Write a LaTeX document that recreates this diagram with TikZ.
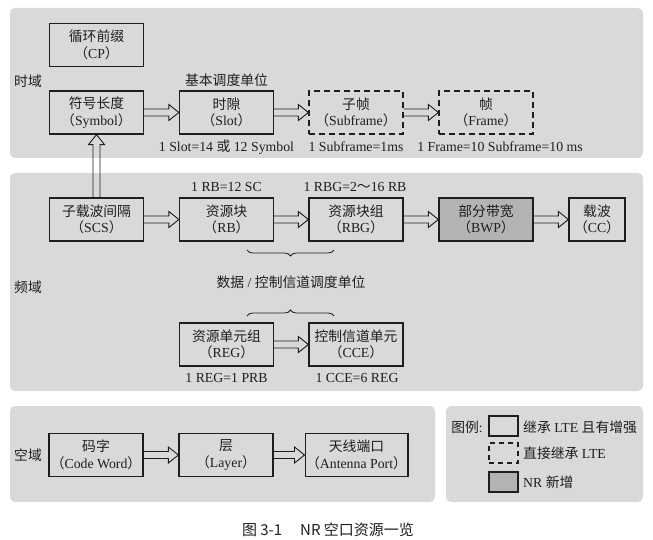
\documentclass[tikz,border=0pt]{standalone}
\usepackage{fontspec}
\setmainfont{Liberation Serif}
\newfontfamily\cjk{Noto Sans CJK SC}
\usetikzlibrary{calc,decorations.pathreplacing}
\newcommand\zh[1]{{\cjk #1}}
\definecolor{panelgray}{HTML}{D9D9D9}
\definecolor{newgray}{HTML}{B3B3B3}
\definecolor{ink}{HTML}{1E1E1E}
\tikzset{
  panel/.style={fill=panelgray, draw=none, rounded corners=5pt},
  box/.style={draw=ink, line width=1.2pt, minimum width=94pt, minimum height=43pt,
    align=center, inner sep=1pt, font=\fontsize{13.8}{16.5}\selectfont, text=ink},
  dbox/.style={box, dash pattern=on 6pt off 4pt},
  gbox/.style={box, fill=newgray},
  arr/.style={draw=ink, line width=0.9pt, line join=miter},
  lbl/.style={font=\fontsize{13.8}{16}\selectfont, text=ink, inner sep=0pt},
  brc/.style={draw=ink, line width=0.8pt, decorate},
}
\newcommand\harr[2]{\draw[arr] let \p1=(#1.east), \p2=(#2.west) in
  (\x1,\y1+3.5pt) -- (\x2-10pt,\y1+3.5pt) -- (\x2-10pt,\y1+8pt) -- (\x2,\y1)
  -- (\x2-10pt,\y1-8pt) -- (\x2-10pt,\y1-3.5pt) -- (\x1,\y1-3.5pt);}
\begin{document}
\begin{tikzpicture}[x=1pt,y=1pt]
\useasboundingbox (0,0) rectangle (653,539);
% panels
\fill[panel] (10,381) rectangle (643,531);
\fill[panel] (10,148) rectangle (643,366);
\fill[panel] (10,37) rectangle (435,133);
\fill[panel] (446,37) rectangle (643,133);

% time domain
\node[lbl] (td) at (28,458) {\zh{时域}};
\node[box] (cp) at (96.5,494) {\zh{循环前缀}\\\zh{（}CP\zh{）}};
\node[box] (sym) at (96.5,426.5) {\zh{符号长度}\\\zh{（}Symbol\zh{）}};
\node[box] (slot) at (226.5,426.5) {\zh{时隙}\\\zh{（}Slot\zh{）}};
\node[dbox] (subf) at (356,426.5) {\zh{子帧}\\\zh{（}Subframe\zh{）}};
\node[dbox] (frame) at (486,426.5) {\zh{帧}\\\zh{（}Frame\zh{）}};
\node[lbl] (bas) at (226.5,459) {\zh{基本调度单位}};
\node[lbl] (l1) at (226.5,392) {1 Slot=14 \zh{或} 12 Symbol};
\node[lbl] (l2) at (356,392) {1 Subframe=1ms};
\node[lbl] (l3) at (500,392) {1 Frame=10 Subframe=10 ms};
\harr{sym}{slot}
\harr{slot}{subf}
\harr{subf}{frame}

% frequency domain
\node[lbl] (fd) at (28,252) {\zh{频域}};
\node[box] (scs) at (96.5,319.5) {\zh{子载波间隔}\\\zh{（}SCS\zh{）}};
\node[box] (rb) at (226.5,319.5) {\zh{资源块}\\\zh{（}RB\zh{）}};
\node[box] (rbg) at (356,319.5) {\zh{资源块组}\\\zh{（}RBG\zh{）}};
\node[gbox] (bwp) at (486,319.5) {\zh{部分带宽}\\\zh{（}BWP\zh{）}};
\node[box, minimum width=56pt] (cc) at (597,319.5) {\zh{载波}\\\zh{（}CC\zh{）}};
\node[lbl] (l4) at (226.5,352) {1 RB=12 SC};
\node[lbl] (l5) at (355,352) {1 RBG=2\zh{～}16 RB};
\node[box] (reg) at (226.5,194.5) {\zh{资源单元组}\\\zh{（}REG\zh{）}};
\node[box] (cce) at (356,194.5) {\zh{控制信道单元}\\\zh{（}CCE\zh{）}};
\node[lbl] (l6) at (226.5,161) {1 REG=1 PRB};
\node[lbl] (l7) at (357,161) {1 CCE=6 REG};
\node[lbl] (dc) at (291,257) {\zh{数据} / \zh{控制信道调度单位}};
\harr{scs}{rb}
\harr{rb}{rbg}
\harr{rbg}{bwp}
\harr{bwp}{cc}
\harr{reg}{cce}
% vertical arrow SCS -> Symbol
\draw[arr] let \p1=(scs.north), \p2=(sym.south) in
  (\x1-3.5pt,\y1) -- (\x1-3.5pt,\y2-10pt) -- (\x1-8pt,\y2-10pt) -- (\x2,\y2)
  -- (\x1+8pt,\y2-10pt) -- (\x1+3.5pt,\y2-10pt) -- (\x1+3.5pt,\y1);
% braces
\coordinate (b1a) at (247,289);
\coordinate (b1b) at (334,289);
\coordinate (b2a) at (247,223);
\coordinate (b2b) at (334,223);
\draw[brc, decoration={brace, mirror, amplitude=6pt}] (b1a) -- (b1b);
\draw[brc, decoration={brace, amplitude=6pt}] (b2a) -- (b2b);

% space domain
\node[lbl] (sd) at (28,84) {\zh{空域}};
\node[box] (cw) at (96,84) {\zh{码字}\\\zh{（}Code Word\zh{）}};
\node[box] (lay) at (226,84) {\zh{层}\\\zh{（}Layer\zh{）}};
\node[box, minimum width=95pt] (ant) at (356.5,84) {\zh{天线端口}\\\zh{（}Antenna Port\zh{）}};
\harr{cw}{lay}
\harr{lay}{ant}

% legend
\node[lbl] (lg) at (467,112) {\zh{图例}:};
\node[box, minimum width=29pt, minimum height=20pt] (k1) at (503.5,113) {};
\node[dbox, minimum width=29pt, minimum height=20pt, dash pattern=on 5pt off 4pt] (k2) at (503.5,86) {};
\node[gbox, minimum width=29pt, minimum height=20pt] (k3) at (503.5,57) {};
\node[lbl, anchor=west] (t1) at (523,112) {\zh{继承} LTE \zh{且有增强}};
\node[lbl, anchor=west] (t2) at (523,86) {\zh{直接继承} LTE};
\node[lbl, anchor=west] (t3) at (523,57) {NR \zh{新增}};

% caption
\node[font=\cjk\fontsize{15}{17}\selectfont, text=ink, inner sep=0pt] (cap) at (328,9) {图 3-1\hspace{1.2em}NR 空口资源一览};
\end{tikzpicture}
\end{document}
